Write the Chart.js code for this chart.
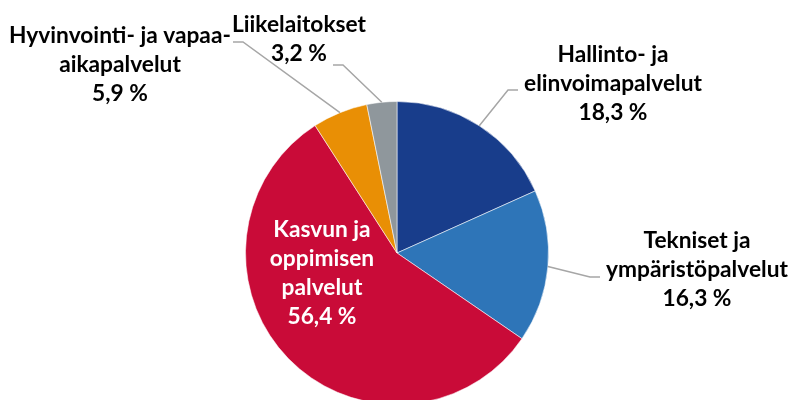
<!DOCTYPE html>
<html>
<head>
<meta charset="utf-8">
<script src="https://cdn.jsdelivr.net/npm/chart.js@4"></script>
<style>
  html, body { margin: 0; padding: 0; background: #fff; overflow: hidden; }
  #wrap { position: relative; width: 790px; height: 420px; }
</style>
</head>
<body>
<div id="wrap"><canvas id="chart"></canvas></div>
<script>
// ---------- data ----------
const categories = [
  "Hallinto- ja elinvoimapalvelut",
  "Tekniset ja ympäristöpalvelut",
  "Kasvun ja oppimisen palvelut",
  "Hyvinvointi- ja vapaa-aikapalvelut",
  "Liikelaitokset",
];
const labelLines = [
  ["Hallinto- ja", "elinvoimapalvelut"],
  ["Tekniset ja", "ympäristöpalvelut"],
  ["Kasvun ja", "oppimisen", "palvelut"],
  ["Hyvinvointi- ja vapaa-", "aikapalvelut"],
  ["Liikelaitokset"],
];
const shares = [18.3, 16.3, 56.4, 5.9, 3.2];
const colors = ["#183d8b", "#2e75b8", "#c90b38", "#e98f05", "#8f979c"];

// ---------- label layout (text centre x, first baseline, leader elbow/end) ----------
const labelPos = [
  { x: 613, y: 62,  elbow: [508, 90],  end: [518, 90] },
  { x: 697, y: 248, elbow: [590, 277], end: [600, 277] },
  { x: 322, y: 237, inside: true },
  { x: 120, y: 43,  elbow: [243, 42],  end: [233, 42] },
  { x: 299, y: 32,  elbow: [343, 65],  end: [333, 65] },
];
const LINE_H = 29;
const FONT_FAMILY = "Lato, 'Open Sans', sans-serif";

const fmtPct = (v) => v.toFixed(1).replace(".", ",") + " %";

// size the font so "elinvoimapalvelut" is about as wide as in the original
function fitFontSize(ctx) {
  ctx.font = `bold 100px ${FONT_FAMILY}`;
  const w = ctx.measureText("elinvoimapalvelut").width;
  return 100 * 178 / w;
}

const pieLabels = {
  id: "pieLabels",
  afterDraw(chart) {
    const ctx = chart.ctx;
    const arcs = chart.getDatasetMeta(0).data;
    const size = fitFontSize(ctx);
    ctx.save();
    arcs.forEach((arc, i) => {
      const p = labelPos[i];
      const mid = (arc.startAngle + arc.endAngle) / 2;
      if (!p.inside) {
        const ex = arc.x + Math.cos(mid) * arc.outerRadius;
        const ey = arc.y + Math.sin(mid) * arc.outerRadius;
        ctx.strokeStyle = "#a6a6a6";
        ctx.lineWidth = 1.5;
        ctx.beginPath();
        ctx.moveTo(ex, ey);
        ctx.lineTo(p.elbow[0], p.elbow[1]);
        ctx.lineTo(p.end[0], p.end[1]);
        ctx.stroke();
      }
      const lines = [...labelLines[i], fmtPct(shares[i])];
      ctx.font = `bold ${size}px ${FONT_FAMILY}`;
      ctx.fillStyle = p.inside ? "#ffffff" : "#000000";
      ctx.textAlign = "center";
      ctx.textBaseline = "alphabetic";
      lines.forEach((t, k) => ctx.fillText(t, p.x, p.y + k * LINE_H));
    });
    ctx.restore();
  },
};

new Chart(document.getElementById("chart"), {
  type: "pie",
  data: {
    labels: categories,
    datasets: [{
      data: shares,
      backgroundColor: colors,
      borderColor: "rgba(255,255,255,0.55)",
      borderWidth: 1,
    }],
  },
  options: {
    responsive: true,
    maintainAspectRatio: false,
    animation: false,
    layout: { padding: { top: 101, bottom: 15, left: 245, right: 241 } },
    plugins: { legend: { display: false }, tooltip: { enabled: false } },
  },
  plugins: [pieLabels],
});
</script>
</body>
</html>
